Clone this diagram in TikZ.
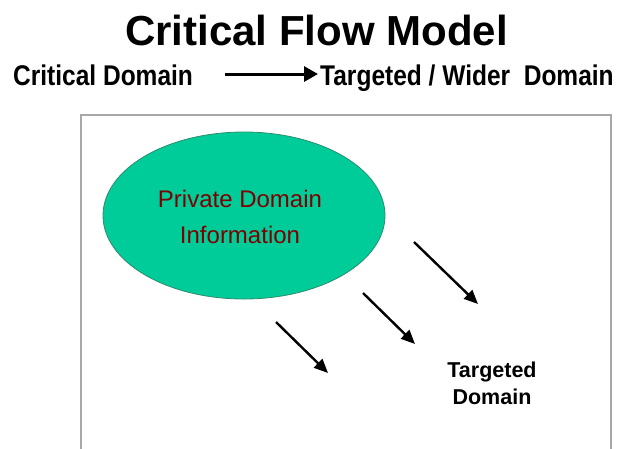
\documentclass[tikz,border=0pt]{standalone}
\usepackage{fontspec}
\setmainfont{Liberation Sans}
\newfontfamily\narrowfont[FakeStretch=0.86]{Liberation Sans}
\usetikzlibrary{arrows.meta,shapes.geometric}
\definecolor{teal1}{HTML}{00CC99}
\definecolor{tealedge}{HTML}{2E8C6E}
\definecolor{darkred1}{HTML}{7F0000}
\definecolor{boxgray}{HTML}{A8A8A8}
\tikzset{
  titletext/.style={font=\fontsize{42}{50}\selectfont\bfseries, inner sep=0pt},
  subtext/.style={font=\narrowfont\fontsize{28.5}{34}\selectfont\bfseries, inner sep=0pt},
  blob/.style={ellipse, fill=teal1, draw=tealedge, line width=0.8pt, minimum width=282pt, minimum height=167pt, inner sep=0pt},
  blobtext/.style={text=darkred1, align=center, inner sep=0pt, font=\fontsize{24}{36}\selectfont},
  targettext/.style={font=\fontsize{21.5}{27}\selectfont\bfseries, align=center, inner sep=0pt},
  flow/.style={line width=2.4pt, -{Triangle[length=14pt,width=12pt]}},
  bigflow/.style={line width=3pt, -{Triangle[length=14pt,width=15pt]}},
}
\begin{document}
\begin{tikzpicture}[x=1pt,y=-1pt]
\useasboundingbox (0,0) rectangle (624,448);
\fill[white] (0,0) rectangle (624,448);
% title and subtitle
\node[titletext, anchor=base] (title) at (316.5,45) {Critical Flow Model};
\node[subtext, anchor=base west] (crit) at (13,85) {Critical Domain};
\node[subtext, anchor=base west] (wider) at (320,85) {Targeted / Wider\ \ Domain};
\coordinate (sa) at (225,74);
\coordinate (sb) at (318,74);
\draw[bigflow] (sa) -- (sb);
% frame
\draw[boxgray, line width=2pt] (81,450) -- (81,115) -- (611,115) -- (611,450);
% ellipse
\node[blob] (priv) at (244,215.5) {};
\node[blobtext, anchor=base] (privtext) at (240,243) {Private Domain\\Information};
% arrows
\coordinate (a1s) at (414,242); \coordinate (a1e) at (478,304);
\coordinate (a2s) at (363,293); \coordinate (a2e) at (415,344);
\coordinate (a3s) at (276,322); \coordinate (a3e) at (328,373);
\draw[flow] (a1s) -- (a1e);
\draw[flow] (a2s) -- (a2e);
\draw[flow] (a3s) -- (a3e);
% targeted domain
\node[targettext, anchor=base] (target) at (492,404) {Targeted\\Domain};
\end{tikzpicture}
\end{document}
